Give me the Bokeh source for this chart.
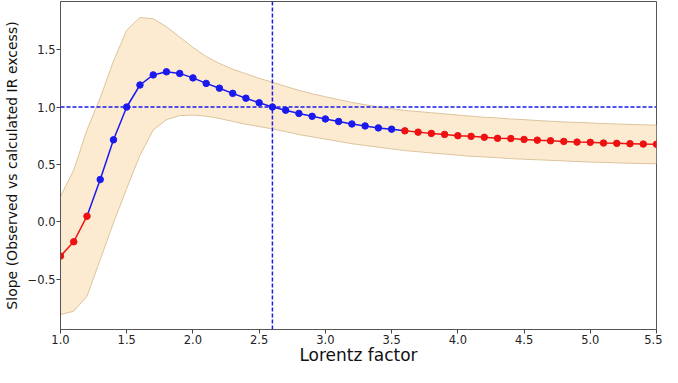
from bokeh.plotting import figure
from bokeh.models import ColumnDataSource, FixedTicker, Span, Range1d
from bokeh.embed import file_html
from bokeh.resources import INLINE

lorentz = [1.0, 1.1, 1.2, 1.3, 1.4, 1.5, 1.6, 1.7, 1.8, 1.9,
           2.0, 2.1, 2.2, 2.3, 2.4, 2.5, 2.6, 2.7, 2.8, 2.9,
           3.0, 3.1, 3.2, 3.3, 3.4, 3.5, 3.6, 3.7, 3.8, 3.9,
           4.0, 4.1, 4.2, 4.3, 4.4, 4.5, 4.6, 4.7, 4.8, 4.9,
           5.0, 5.1, 5.2, 5.3, 5.4, 5.5]
slope = [-0.30, -0.175, 0.048, 0.368, 0.714, 1.0, 1.192, 1.28, 1.307, 1.293,
         1.254, 1.206, 1.164, 1.119, 1.077, 1.037, 1.0, 0.972, 0.944, 0.919,
         0.896, 0.874, 0.852, 0.835, 0.818, 0.807, 0.792, 0.781, 0.770, 0.761,
         0.750, 0.744, 0.736, 0.727, 0.725, 0.717, 0.711, 0.706, 0.700, 0.694,
         0.692, 0.686, 0.683, 0.680, 0.677, 0.675]
upper = [0.22, 0.45, 0.80, 1.08, 1.40, 1.67, 1.78, 1.77, 1.70, 1.61,
         1.52, 1.44, 1.38, 1.33, 1.29, 1.25, 1.216, 1.18, 1.145, 1.115,
         1.09, 1.065, 1.04, 1.02, 1.00, 0.985, 0.97, 0.96, 0.95, 0.94,
         0.93, 0.92, 0.91, 0.905, 0.895, 0.89, 0.882, 0.876, 0.87, 0.866,
         0.861, 0.856, 0.852, 0.848, 0.845, 0.842]
lower = [-0.81, -0.78, -0.65, -0.33, -0.01, 0.29, 0.58, 0.80, 0.89, 0.925,
         0.93, 0.92, 0.90, 0.875, 0.85, 0.83, 0.809, 0.785, 0.76, 0.74,
         0.72, 0.70, 0.68, 0.665, 0.65, 0.635, 0.62, 0.61, 0.60, 0.59,
         0.58, 0.57, 0.565, 0.558, 0.55, 0.545, 0.54, 0.535, 0.53, 0.525,
         0.52, 0.517, 0.513, 0.51, 0.507, 0.505]

# segment boundaries (Lorentz factor values)
blue_start = 1.2
blue_end = 3.6
ref_lorentz = 2.6
ref_slope = 1.0

x_ticks = [1.0, 1.5, 2.0, 2.5, 3.0, 3.5, 4.0, 4.5, 5.0, 5.5]
x_tick_labels = ["1.0", "1.5", "2.0", "2.5", "3.0", "3.5", "4.0", "4.5", "5.0", "5.5"]
y_ticks = [-0.5, 0.0, 0.5, 1.0, 1.5]
y_tick_labels = ["\u22120.5", "0.0", "0.5", "1.0", "1.5"]

x_label = "Lorentz factor"
y_label = "Slope (Observed vs calculated IR excess)"

FONT = "DejaVu Sans"
BLUE = "#1a1aee"
RED = "#ee1111"

p = figure(width=662, height=367, output_backend="svg", toolbar_location=None,
           x_range=Range1d(1.0, 5.5), y_range=Range1d(-0.94, 1.92),
           min_border_left=55, min_border_right=6, min_border_top=1,
           min_border_bottom=0)
p.grid.visible = False
p.outline_line_color = "#555555"
p.outline_line_width = 1
p.background_fill_color = "white"
p.border_fill_color = "white"

# uncertainty band
band_src = ColumnDataSource(dict(x=lorentz, lo=lower, hi=upper))
p.varea(x="x", y1="lo", y2="hi", source=band_src, fill_color="#fdebd1", fill_alpha=1.0)
p.line(x="x", y="hi", source=band_src, line_color="#dcc49c", line_width=1)
p.line(x="x", y="lo", source=band_src, line_color="#dcc49c", line_width=1)

# reference lines
p.add_layout(Span(location=ref_lorentz, dimension="height", line_color=BLUE,
                  line_dash="4 2", line_width=1.5))
p.add_layout(Span(location=ref_slope, dimension="width", line_color=BLUE,
                  line_dash="4 2", line_width=1.5))

eps = 1e-9
blue_x = [x for x in lorentz if blue_start - eps <= x <= blue_end + eps]
blue_y = [y for x, y in zip(lorentz, slope) if blue_start - eps <= x <= blue_end + eps]
red1_x = [x for x in lorentz if x <= blue_start + eps]
red1_y = [y for x, y in zip(lorentz, slope) if x <= blue_start + eps]
red2_x = [x for x in lorentz if x >= blue_end - eps]
red2_y = [y for x, y in zip(lorentz, slope) if x >= blue_end - eps]

p.line(blue_x, blue_y, line_color=BLUE, line_width=1.5)
p.scatter(blue_x[1:-1], blue_y[1:-1], size=6.5, fill_color=BLUE, line_color=BLUE)
p.line(red1_x, red1_y, line_color=RED, line_width=1.5)
p.scatter(red1_x, red1_y, size=6.5, fill_color=RED, line_color=RED)
p.line(red2_x, red2_y, line_color=RED, line_width=1.5)
p.scatter(red2_x, red2_y, size=6.5, fill_color=RED, line_color=RED)

for ax, ticks, labels in ((p.xaxis[0], x_ticks, x_tick_labels), (p.yaxis[0], y_ticks, y_tick_labels)):
    ax.ticker = FixedTicker(ticks=ticks)
    ax.major_label_overrides = {t: l for t, l in zip(ticks, labels)}
    ax.minor_tick_line_color = None
    ax.major_tick_out = 4
    ax.major_tick_in = 0
    ax.major_label_standoff = 1
    ax.major_tick_line_color = "#444444"
    ax.axis_line_color = "#555555"
    ax.major_label_text_font = FONT
    ax.major_label_text_font_size = "11.5px"
    ax.major_label_text_color = "#222222"
    ax.axis_label_text_font = FONT
    ax.axis_label_text_font_style = "normal"
    ax.axis_label_text_color = "#111111"

p.xaxis.axis_label = x_label
p.xaxis.axis_label_text_font_size = "17px"
p.xaxis.axis_label_standoff = -2
p.yaxis.axis_label = y_label
p.yaxis.axis_label_text_font_size = "14px"
p.yaxis.axis_label_standoff = 5

open("out.html", "w").write(file_html(p, INLINE))
